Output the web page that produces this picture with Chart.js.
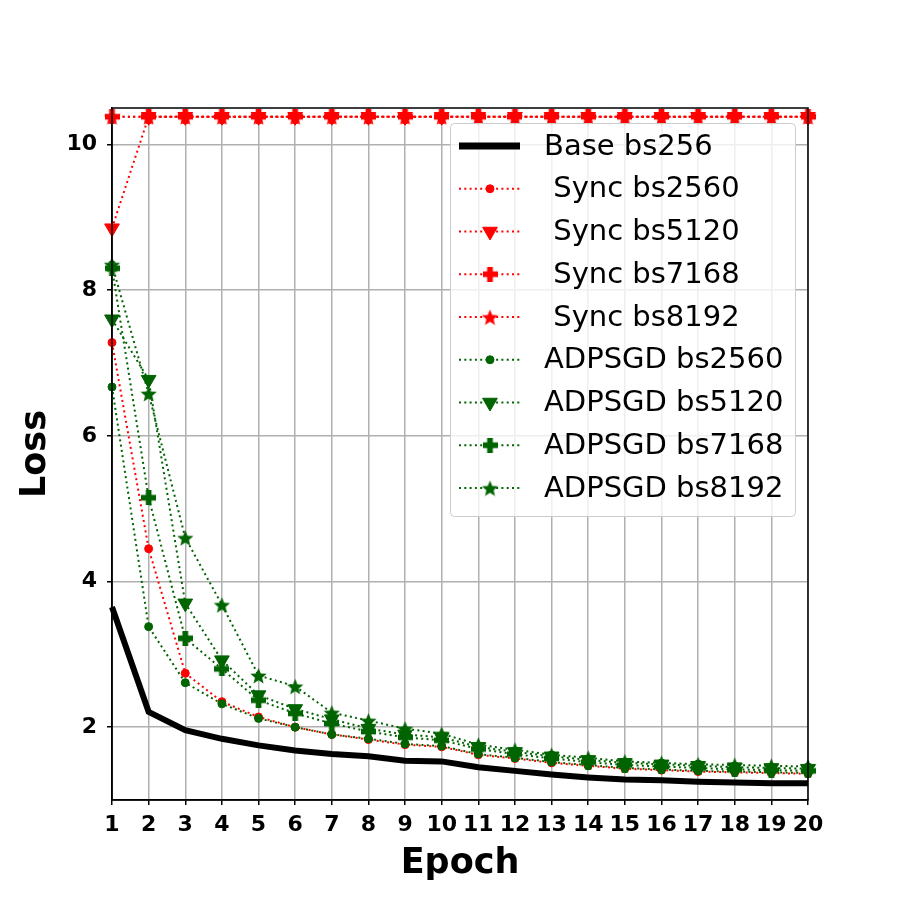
<!DOCTYPE html>
<html>
<head>
<meta charset="utf-8">
<script src="https://cdn.jsdelivr.net/npm/chart.js@4.4.1/dist/chart.umd.min.js"></script>
<style>
    body { margin: 0; background: #fff; }
    canvas { display: block; }
</style>
</head>
<body>
<canvas id="lossChart" width="900" height="900"></canvas>
<script>
// Données
const epochs = ["1", "2", "3", "4", "5", "6", "7", "8", "9", "10", "11", "12", "13", "14", "15", "16", "17", "18", "19", "20"];
const yTicks = [2, 4, 6, 8, 10];

const baseBs256 = [3.65, 2.21, 1.96, 1.84, 1.75, 1.68, 1.63, 1.60, 1.54, 1.53, 1.45, 1.40, 1.35, 1.31, 1.28, 1.27, 1.25, 1.24, 1.23, 1.23];

const syncBs2560 = [7.28, 4.45, 2.74, 2.35, 2.14, 2.00, 1.90, 1.83, 1.76, 1.73, 1.62, 1.57, 1.51, 1.47, 1.43, 1.41, 1.39, 1.38, 1.37, 1.36];
const syncBs5120 = [8.85, 10.38, 10.38, 10.38, 10.38, 10.38, 10.38, 10.38, 10.38, 10.38, 10.38, 10.38, 10.38, 10.38, 10.38, 10.38, 10.38, 10.38, 10.38, 10.38];
const syncBs7168 = [10.38, 10.38, 10.38, 10.38, 10.38, 10.38, 10.38, 10.38, 10.38, 10.38, 10.38, 10.38, 10.38, 10.38, 10.38, 10.38, 10.38, 10.38, 10.38, 10.38];
const syncBs8192 = [10.38, 10.38, 10.38, 10.38, 10.38, 10.38, 10.38, 10.38, 10.38, 10.38, 10.38, 10.38, 10.38, 10.38, 10.38, 10.38, 10.38, 10.38, 10.38, 10.38];

const adBs2560 = [6.67, 3.38, 2.61, 2.32, 2.12, 2.00, 1.90, 1.84, 1.77, 1.74, 1.63, 1.58, 1.52, 1.48, 1.44, 1.42, 1.40, 1.39, 1.38, 1.37];
const adBs5120 = [7.60, 6.77, 3.70, 2.92, 2.44, 2.25, 2.11, 1.98, 1.90, 1.86, 1.73, 1.66, 1.60, 1.55, 1.51, 1.49, 1.47, 1.45, 1.44, 1.43];
const adBs7168 = [8.30, 5.15, 3.22, 2.80, 2.37, 2.19, 2.05, 1.94, 1.86, 1.82, 1.70, 1.63, 1.57, 1.52, 1.48, 1.46, 1.44, 1.42, 1.41, 1.40];
const adBs8192 = [8.35, 6.58, 4.60, 3.68, 2.71, 2.56, 2.20, 2.09, 1.98, 1.91, 1.76, 1.69, 1.62, 1.58, 1.53, 1.51, 1.49, 1.48, 1.47, 1.46];

const RED = "#ff0000";
const GREEN = "#006400";
const FONT = "'DejaVu Sans', sans-serif";

// Marqueurs pleins (étoile et plus) dessinés dans un petit canvas
function makeStar(size, color) {
    const c = document.createElement("canvas");
    c.width = size; c.height = size;
    const ctx = c.getContext("2d");
    const r = size / 2, ri = r * 0.45;
    ctx.beginPath();
    for (let i = 0; i < 10; i++) {
        const rr = (i % 2 === 0) ? r : ri;
        const a = -Math.PI / 2 + i * Math.PI / 5;
        const px = r + rr * Math.cos(a);
        const py = r + 1 + rr * Math.sin(a);
        if (i === 0) ctx.moveTo(px, py); else ctx.lineTo(px, py);
    }
    ctx.closePath();
    ctx.fillStyle = color;
    ctx.fill();
    return c;
}

function makePlus(size, color) {
    const c = document.createElement("canvas");
    c.width = size; c.height = size;
    const ctx = c.getContext("2d");
    const t = size * 0.38;
    const o = (size - t) / 2;
    ctx.fillStyle = color;
    ctx.fillRect(o, 0, t, size);
    ctx.fillRect(0, o, size, t);
    return c;
}

const redStar = makeStar(17, RED);
const greenStar = makeStar(17, GREEN);
const redPlus = makePlus(15, RED);
const greenPlus = makePlus(15, GREEN);

function dotted(label, data, color, style, radius, rotation, order) {
    return {
        label: label,
        data: data,
        borderColor: color,
        backgroundColor: color,
        borderWidth: 2,
        borderDash: [2, 3.3],
        pointStyle: style,
        pointRadius: radius,
        pointRotation: rotation,
        pointBorderWidth: 1,
        pointBackgroundColor: color,
        pointBorderColor: color,
        tension: 0,
        order: order
    };
}

const datasets = [
    {
        label: "Base bs256",
        data: baseBs256,
        borderColor: "#000",
        backgroundColor: "#000",
        borderWidth: 6,
        pointRadius: 0,
        tension: 0,
        order: 9
    },
    dotted(" Sync bs2560", syncBs2560, RED, "circle", 4, 0, 8),
    dotted(" Sync bs5120", syncBs5120, RED, "triangle", 8.5, 180, 7),
    dotted(" Sync bs7168", syncBs7168, RED, redPlus, 8, 0, 6),
    dotted(" Sync bs8192", syncBs8192, RED, redStar, 8, 0, 5),
    dotted("ADPSGD bs2560", adBs2560, GREEN, "circle", 4, 0, 4),
    dotted("ADPSGD bs5120", adBs5120, GREEN, "triangle", 8.5, 180, 3),
    dotted("ADPSGD bs7168", adBs7168, GREEN, greenPlus, 8, 0, 2),
    dotted("ADPSGD bs8192", adBs8192, GREEN, greenStar, 8, 0, 1)
];

// Cadre complet autour de la zone de tracé
const framePlugin = {
    id: "frame",
    afterDatasetsDraw(chart) {
        const { ctx, chartArea: a } = chart;
        ctx.save();
        ctx.strokeStyle = "#000";
        ctx.lineWidth = 1.5;
        ctx.strokeRect(a.left, a.top, a.right - a.left, a.bottom - a.top);
        ctx.restore();
    }
};

// Légende façon matplotlib, en haut à droite
const legendPlugin = {
    id: "mplLegend",
    afterDraw(chart) {
        const ctx = chart.ctx;
        const box = { x: 450, y: 123, w: 345, h: 393 };
        ctx.save();
        ctx.fillStyle = "rgba(255,255,255,0.8)";
        ctx.strokeStyle = "#cccccc";
        ctx.lineWidth = 1;
        ctx.beginPath();
        ctx.roundRect(box.x + 0.5, box.y + 0.5, box.w, box.h, 4);
        ctx.fill();
        ctx.stroke();

        const x0 = 459, x1 = 520, xm = 490, xt = 544;
        chart.data.datasets.forEach((ds, i) => {
            const y = 146 + i * 42.75;
            ctx.strokeStyle = ds.borderColor;
            ctx.lineWidth = i === 0 ? 7 : 2;
            ctx.setLineDash(ds.borderDash || []);
            ctx.beginPath();
            ctx.moveTo(x0, y);
            ctx.lineTo(x1, y);
            ctx.stroke();
            ctx.setLineDash([]);
            if (ds.pointRadius > 0) {
                ctx.fillStyle = ds.pointBackgroundColor;
                ctx.strokeStyle = ds.pointBorderColor;
                ctx.lineWidth = 1;
                Chart.helpers.drawPoint(ctx, {
                    pointStyle: ds.pointStyle,
                    radius: ds.pointRadius,
                    rotation: ds.pointRotation,
                    borderWidth: 1
                }, xm, y);
            }
            ctx.fillStyle = "#000";
            ctx.font = "29px " + FONT;
            ctx.textAlign = "left";
            ctx.textBaseline = "middle";
            ctx.fillText(ds.label, xt, y + 1);
        });
        ctx.restore();
    }
};

new Chart(document.getElementById("lossChart"), {
    type: "line",
    data: { labels: epochs, datasets: datasets },
    plugins: [framePlugin, legendPlugin],
    options: {
        responsive: false,
        animation: false,
        layout: { padding: { top: 108, right: 92, left: 0, bottom: 0 } },
        plugins: { legend: { display: false }, tooltip: { enabled: false } },
        scales: {
            x: {
                offset: false,
                afterFit: s => { s.height = 100; },
                grid: { color: "#b0b0b0", lineWidth: 1.5, tickColor: "#000", tickLength: 5 },
                border: { color: "#000", width: 1.5 },
                ticks: {
                    color: "#000",
                    padding: 7,
                    maxRotation: 0,
                    autoSkip: false,
                    font: { family: FONT, size: 22, weight: "bold" }
                },
                title: {
                    display: true,
                    text: "Epoch",
                    color: "#000",
                    padding: { top: 0, bottom: 15 },
                    font: { family: FONT, size: 35, weight: "bold" }
                }
            },
            y: {
                min: 1.0,
                max: 10.5,
                afterFit: s => { s.width = 112; },
                afterBuildTicks: s => { s.ticks = yTicks.map(v => ({ value: v })); },
                grid: { color: "#b0b0b0", lineWidth: 1.5, tickColor: "#000", tickLength: 5 },
                border: { color: "#000", width: 1.5 },
                ticks: {
                    color: "#000",
                    padding: 10,
                    font: { family: FONT, size: 22, weight: "bold" }
                },
                title: {
                    display: true,
                    text: "Loss",
                    color: "#000",
                    padding: { top: 15, bottom: 0 },
                    font: { family: FONT, size: 35, weight: "bold" }
                }
            }
        }
    }
});
</script>
</body>
</html>
